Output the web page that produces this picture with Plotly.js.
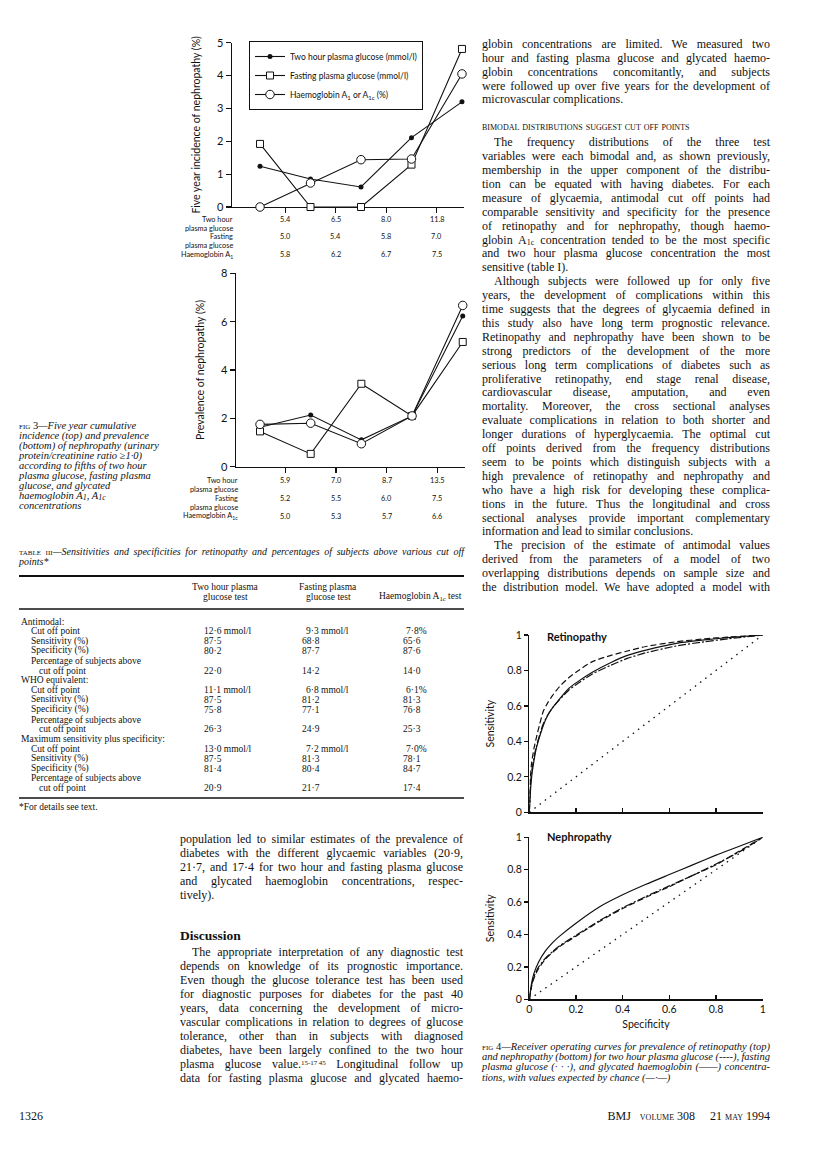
<!DOCTYPE html>
<html><head><meta charset="utf-8">
<script src="https://cdn.plot.ly/plotly-3.0.1.min.js"></script>
<style>
html,body{margin:0;padding:0;background:#fff;}
#page{position:relative;width:816px;height:1155px;overflow:hidden;background:#fff;}
#plot{position:absolute;left:0;top:0;width:816px;height:1155px;}
#prose{position:absolute;left:0;top:0;width:816px;height:1155px;pointer-events:none;}
.ln{position:absolute;white-space:nowrap;font-family:"Liberation Serif","Times New Roman",serif;color:#111;}
.sc{font-variant:small-caps;font-style:normal;}
.sb{font-size:8px;vertical-align:-1px;line-height:0;}
.sp{font-size:7px;vertical-align:3px;line-height:0;}
</style></head><body>
<div id="page"><div id="plot"></div><div id="prose"></div></div>
<script>
// ---------------- DATA ----------------
// Fig 3: fifths of each glycaemic variable
const fifths = [1, 2, 3, 4, 5];
const seriesNames = ['Two hour plasma glucose (mmol/l)', 'Fasting plasma glucose (mmol/l)', 'Haemoglobin A<sub>1</sub> or A<sub>1c</sub> (%)'];
// five year incidence of nephropathy (%)
const incTwoHour = [1.24, 0.85, 0.61, 2.11, 3.20];
const incFasting = [1.92, 0, 0, 1.29, 4.81];
const incHb      = [0, 0.73, 1.44, 1.46, 4.05];
// prevalence of nephropathy (%)
const prevTwoHour = [1.63, 2.14, 1.11, 2.10, 6.23];
const prevFasting = [1.46, 0.53, 3.43, 2.10, 5.16];
const prevHb      = [1.75, 1.80, 0.95, 2.10, 6.67];
// cut points between fifths (tick labels)
const incCutTwoHour = ['5.4', '6.5', '8.0', '11.8'];
const incCutFasting = ['5.0', '5.4', '5.8', '7.0'];
const incCutHb      = ['5.8', '6.2', '6.7', '7.5'];
const prevCutTwoHour = ['5.9', '7.0', '8.7', '13.5'];
const prevCutFasting = ['5.2', '5.5', '6.0', '7.5'];
const prevCutHb      = ['5.0', '5.3', '5.7', '6.6'];
const incTicks = [0, 1, 2, 3, 4, 5];
const prevTicks = [0, 2, 4, 6, 8];

// Fig 4: ROC curves
const rocTicks = [0, 0.2, 0.4, 0.6, 0.8, 1];
const rocTickText = ['0', '0.2', '0.4', '0.6', '0.8', '1'];
const retX       = [0, 0.005, 0.01, 0.02, 0.03, 0.045, 0.06, 0.08, 0.1, 0.13, 0.17, 0.2, 0.27, 0.35, 0.42, 0.5, 0.63, 0.75, 0.85, 1];
const retTwoHour = [0, 0.2, 0.28, 0.36, 0.42, 0.5, 0.57, 0.62, 0.66, 0.71, 0.76, 0.79, 0.85, 0.885, 0.91, 0.935, 0.962, 0.978, 0.988, 1];
const retFasting = [0, 0.15, 0.23, 0.31, 0.37, 0.44, 0.5, 0.55, 0.59, 0.635, 0.69, 0.72, 0.78, 0.83, 0.868, 0.9, 0.938, 0.962, 0.978, 1];
const retHb      = [0, 0.12, 0.2, 0.29, 0.36, 0.43, 0.49, 0.55, 0.59, 0.64, 0.7, 0.73, 0.79, 0.845, 0.885, 0.915, 0.953, 0.972, 0.985, 1];
const nephX       = [0, 0.01, 0.02, 0.04, 0.07, 0.1, 0.13, 0.2, 0.3, 0.4, 0.5, 0.6, 0.7, 0.8, 0.9, 1];
const nephHb      = [0, 0.1, 0.16, 0.23, 0.3, 0.35, 0.39, 0.47, 0.57, 0.645, 0.71, 0.77, 0.83, 0.89, 0.945, 1];
const nephTwoHour = [0, 0.08, 0.13, 0.19, 0.25, 0.29, 0.325, 0.39, 0.48, 0.56, 0.63, 0.695, 0.765, 0.83, 0.915, 1];
const nephFasting = [0, 0.09, 0.14, 0.2, 0.255, 0.295, 0.33, 0.395, 0.485, 0.565, 0.635, 0.7, 0.765, 0.835, 0.91, 1];
const chanceX = [0, 1];
const chanceY = [0, 1];

// Table III
const tableCols = [['Two hour plasma', 'glucose test'], ['Fasting plasma', 'glucose test'], ['Haemoglobin A<sub>1c</sub> test']];
const tableSections = ['Antimodal:', 'WHO equivalent:', 'Maximum sensitivity plus specificity:'];
const tableRowLabels = ['Cut off point', 'Sensitivity (%)', 'Specificity (%)', 'Percentage of subjects above', 'cut off point'];
const antimodalVals = [['12·6 mmol/l', '9·3 mmol/l', '7·8%'], ['87·5', '68·8', '65·6'], ['80·2', '87·7', '87·6'], ['22·0', '14·2', '14·0']];
const whoVals       = [['11·1 mmol/l', '6·8 mmol/l', '6·1%'], ['87·5', '81·2', '81·3'], ['75·8', '77·1', '76·8'], ['26·3', '24·9', '25·3']];
const maxVals       = [['13·0 mmol/l', '7·2 mmol/l', '7·0%'], ['87·5', '81·3', '78·1'], ['81·4', '80·4', '84·7'], ['20·9', '21·7', '17·4']];

// Prose
const rightTop = ['globin concentrations are limited. We measured two', 'hour and fasting plasma glucose and glycated haemo-', 'globin concentrations concomitantly, and subjects', 'were followed up over five years for the development of', 'microvascular complications.'];
const rightHeading = 'bimodal distributions suggest cut off points';
const rightP1 = ['The frequency distributions of the three test', 'variables were each bimodal and, as shown previously,', 'membership in the upper component of the distribu-', 'tion can be equated with having diabetes. For each', 'measure of glycaemia, antimodal cut off points had', 'comparable sensitivity and specificity for the presence', 'of retinopathy and for nephropathy, though haemo-', 'globin A<span class="sb">1c</span> concentration tended to be the most specific', 'and two hour plasma glucose concentration the most', 'sensitive (table I).'];
const rightP2 = ['Although subjects were followed up for only five', 'years, the development of complications within this', 'time suggests that the degrees of glycaemia defined in', 'this study also have long term prognostic relevance.', 'Retinopathy and nephropathy have been shown to be', 'strong predictors of the development of the more', 'serious long term complications of diabetes such as', 'proliferative retinopathy, end stage renal disease,', 'cardiovascular disease, amputation, and even', 'mortality. Moreover, the cross sectional analyses', 'evaluate complications in relation to both shorter and', 'longer durations of hyperglycaemia. The optimal cut', 'off points derived from the frequency distributions', 'seem to be points which distinguish subjects with a', 'high prevalence of retinopathy and nephropathy and', 'who have a high risk for developing these complica-', 'tions in the future. Thus the longitudinal and cross', 'sectional analyses provide important complementary', 'information and lead to similar conclusions.'];
const rightP3 = ['The precision of the estimate of antimodal values', 'derived from the parameters of a model of two', 'overlapping distributions depends on sample size and', 'the distribution model. We have adopted a model with'];
const leftP1 = ['population led to similar estimates of the prevalence of', 'diabetes with the different glycaemic variables (20·9,', '21·7, and 17·4 for two hour and fasting plasma glucose', 'and glycated haemoglobin concentrations, respec-', 'tively).'];
const leftHeading = 'Discussion';
const leftP2 = ['The appropriate interpretation of any diagnostic test', 'depends on knowledge of its prognostic importance.', 'Even though the glucose tolerance test has been used', 'for diagnostic purposes for diabetes for the past 40', 'years, data concerning the development of micro-', 'vascular complications in relation to degrees of glucose', 'tolerance, other than in subjects with diagnosed', 'diabetes, have been largely confined to the two hour', 'plasma glucose value.<span class="sp">15-17\u200945</span> Longitudinal follow up', 'data for fasting plasma glucose and glycated haemo-'];
const fig3Caption = ['<span class="sc">fig 3</span>—Five year cumulative', 'incidence (top) and prevalence', '(bottom) of nephropathy (urinary', 'protein/creatinine ratio ≥1·0)', 'according to fifths of two hour', 'plasma glucose, fasting plasma', 'glucose, and glycated', 'haemoglobin A<span class="sb">1</span>, A<span class="sb">1c</span>', 'concentrations'];
const tableCaption = ['<span class="sc">table iii</span>—Sensitivities and specificities for retinopathy and percentages of subjects above various cut off', 'points*'];
const tableFootnote = '*For details see text.';
const fig4Caption = ['<span class="sc">fig 4</span>—Receiver operating curves for prevalence of retinopathy (top)', 'and nephropathy (bottom) for two hour plasma glucose (----), fasting', 'plasma glucose (· · ·), and glycated haemoglobin (——) concentra-', 'tions, with values expected by chance (—·—)'];
const pageNumber = '1326';
const footerRight = 'BMJ&nbsp;&nbsp;&nbsp;<span class="sc">volume</span> 308&nbsp;&nbsp;&nbsp;&nbsp;&nbsp;21 <span class="sc">may</span> 1994';

// ---------------- GEOMETRY HELPERS ----------------
const W = 816, H = 1155;
const fx = p => p / W;
const fy = p => 1 - p / H;
const sans = 'Lato, "Open Sans", sans-serif';
const serif = '"Liberation Serif", "Times New Roman", serif';
const ink = '#111';
const cutPos = fifths.slice(1).map(v => v - 0.5);

const mTwo  = {symbol: 'circle', size: 5, color: ink};
const mFast = {symbol: 'square', size: 7, color: '#fff', line: {color: ink, width: 1}};
const mHb   = {symbol: 'circle', size: 8.5, color: '#fff', line: {color: ink, width: 1}};
const lineS = {color: ink, width: 1.1};

function f3trace(y, name, marker, xa, ya, show, grp) {
  return {x: fifths, y: y, name: name, type: 'scatter', mode: 'lines+markers', xaxis: xa, yaxis: ya,
    line: lineS, marker: marker, cliponaxis: false, showlegend: show, legendgroup: grp, hoverinfo: 'skip'};
}
function roc(x, y, dash, xa, ya) {
  return {x: x, y: y, type: 'scatter', mode: 'lines', xaxis: xa, yaxis: ya, showlegend: false,
    line: {color: ink, width: dash === 'dot' ? 1.3 : 1.2, dash: dash === 'dot' ? '1.5px,5px' : dash, shape: 'spline', smoothing: 0.6}, cliponaxis: false, hoverinfo: 'skip'};
}
const dashTwo = '6px,3px';
const dashFast = '8px,2px,2px,2px';

const traces = [
  f3trace(incTwoHour, seriesNames[0], mTwo, 'x', 'y', true, 'a'),
  f3trace(incFasting, seriesNames[1], mFast, 'x', 'y', true, 'b'),
  f3trace(incHb, seriesNames[2], mHb, 'x', 'y', true, 'c'),
  f3trace(prevTwoHour, seriesNames[0], mTwo, 'x2', 'y2', false, 'a'),
  f3trace(prevFasting, seriesNames[1], mFast, 'x2', 'y2', false, 'b'),
  f3trace(prevHb, seriesNames[2], mHb, 'x2', 'y2', false, 'c'),
  roc(chanceX, chanceY, 'dot', 'x3', 'y3'),
  roc(retX, retHb, 'solid', 'x3', 'y3'),
  roc(retX, retFasting, dashFast, 'x3', 'y3'),
  roc(retX, retTwoHour, dashTwo, 'x3', 'y3'),
  roc(chanceX, chanceY, 'dot', 'x4', 'y4'),
  roc(nephX, nephHb, 'solid', 'x4', 'y4'),
  roc(nephX, nephFasting, dashFast, 'x4', 'y4'),
  roc(nephX, nephTwoHour, dashTwo, 'x4', 'y4')
];

const axBase = {showgrid: false, zeroline: false, showline: true, linecolor: ink, linewidth: 1.3,
  tickcolor: ink, tickwidth: 1.2, fixedrange: true, layer: 'below traces'};

// ---------------- ANNOTATIONS ----------------
const ann = [];
const cutFont = {size: 7.3, family: sans, color: ink};
function cutRows(xref, axisPx, rows) {
  rows.forEach(r => {
    ann.push({xref: 'paper', yref: 'paper', x: fx(axisPx + 3.5), y: fy(r.y), xanchor: 'right', yanchor: 'middle',
      text: r.label, showarrow: false, font: cutFont});
    if (r.vals) r.vals.forEach((v, i) => ann.push({xref: xref, yref: 'paper', x: cutPos[i], y: fy(r.y),
      xanchor: 'center', yanchor: 'middle', text: v, showarrow: false, font: cutFont}));
  });
}
cutRows('x', 232, [
  {label: 'Two hour', y: 219.5},
  {label: 'plasma glucose', y: 228.5},
  {label: 'Fasting', y: 237},
  {label: 'plasma glucose', y: 245.5},
  {label: 'Haemoglobin A<sub>1</sub>', y: 255}
].map((r, i) => Object.assign(r, {vals: [incCutTwoHour, null, incCutFasting, null, incCutHb][i]})));
cutRows('x2', 236, [
  {label: 'Two hour', y: 481},
  {label: 'plasma glucose', y: 489.5},
  {label: 'Fasting', y: 498.5},
  {label: 'plasma glucose', y: 507},
  {label: 'Haemoglobin A<sub>1c</sub>', y: 516.5}
].map((r, i) => Object.assign(r, {vals: [prevCutTwoHour, null, prevCutFasting, null, prevCutHb][i]})));
// Fig 4 panel labels
ann.push({xref: 'paper', yref: 'paper', x: fx(545), y: fy(636), xanchor: 'left', yanchor: 'middle', text: '<b>Retinopathy</b>', showarrow: false, font: {size: 11, family: sans, color: ink}});
ann.push({xref: 'paper', yref: 'paper', x: fx(545), y: fy(836), xanchor: 'left', yanchor: 'middle', text: '<b>Nephropathy</b>', showarrow: false, font: {size: 11, family: sans, color: ink}});

// Table III
const tFont = {size: 9.5, family: serif, color: ink};
function tText(x, y, t, anchor) {
  ann.push({xref: 'paper', yref: 'paper', x: fx(x), y: fy(y), xanchor: anchor || 'left', yanchor: 'middle', text: t, showarrow: false, font: tFont});
}
const colCenters = [225, 328];
tableCols.forEach((lines, c) => {
  if (c < 2) lines.forEach((t, k) => tText(colCenters[c], 587.3 + k * 9.6, t, 'center'));
  else tText(464, 597, lines[0], 'right');
});
const valX = [201.7, 300, 401];
const cutX = [201.7, 304, 404];
const sectionVals = [antimodalVals, whoVals, maxVals];
const rowY = i => 621.5 + i * 9.8;
sectionVals.forEach((vals, s) => {
  const base = s * 6;
  tText(19, rowY(base), tableSections[s]);
  tText(28.8, rowY(base + 1), tableRowLabels[0]);
  tText(28.8, rowY(base + 2), tableRowLabels[1]);
  tText(28.8, rowY(base + 3), tableRowLabels[2]);
  tText(28.8, rowY(base + 4), tableRowLabels[3]);
  tText(36.8, rowY(base + 5), tableRowLabels[4]);
  vals.forEach((row, r) => {
    const yy = rowY(base + 1 + r + (r === 3 ? 1 : 0));
    row.forEach((v, c) => tText(r === 0 ? cutX[c] : valX[c], yy, v));
  });
});
const shapes = [
  {type: 'line', xref: 'paper', yref: 'paper', x0: fx(19), x1: fx(464), y0: fy(576), y1: fy(576), line: {color: ink, width: 2}},
  {type: 'line', xref: 'paper', yref: 'paper', x0: fx(19), x1: fx(464), y0: fy(609), y1: fy(609), line: {color: ink, width: 1.6}},
  {type: 'line', xref: 'paper', yref: 'paper', x0: fx(19), x1: fx(464), y0: fy(798), y1: fy(798), line: {color: ink, width: 1.6}}
];

const layout = {
  width: W, height: H, margin: {l: 0, r: 0, t: 0, b: 0}, paper_bgcolor: '#fff', plot_bgcolor: 'rgba(0,0,0,0)',
  font: {family: sans, color: ink, size: 10},
  showlegend: true,
  legend: {x: fx(249), y: fy(41), xanchor: 'left', yanchor: 'top', bordercolor: ink, borderwidth: 1, bgcolor: '#fff',
    font: {size: 8.5, family: sans, color: ink}, itemwidth: 30, tracegroupgap: 0},
  xaxis: Object.assign({}, axBase, {domain: [fx(232), fx(464)], range: [0.445, 5.04], anchor: 'y', ticks: 'outside', ticklen: 5,
    tickvals: cutPos, showticklabels: false}),
  yaxis: Object.assign({}, axBase, {domain: [fy(207), fy(42.7)], range: [0, 5], anchor: 'x', ticks: 'outside', ticklen: 5,
    tickvals: incTicks, tickfont: {size: 11, family: sans, color: ink},
    title: {text: 'Five year incidence of nephropathy (%)', font: {size: 10.5, family: sans, color: ink}, standoff: 14}}),
  xaxis2: Object.assign({}, axBase, {domain: [fx(236), fx(465)], range: [0.526, 5.045], anchor: 'y2', ticks: 'outside', ticklen: 5,
    tickvals: cutPos, showticklabels: false}),
  yaxis2: Object.assign({}, axBase, {domain: [fy(466.7), fy(273.3)], range: [0, 8], anchor: 'x2', ticks: 'outside', ticklen: 5,
    tickvals: prevTicks, tickfont: {size: 11, family: sans, color: ink},
    title: {text: 'Prevalence of nephropathy (%)', font: {size: 10.5, family: sans, color: ink}, standoff: 14}}),
  xaxis3: Object.assign({}, axBase, {domain: [fx(529.3), fx(762.7)], range: [0, 1], anchor: 'y3', ticks: 'inside', ticklen: 4,
    tickvals: rocTicks, showticklabels: false}),
  yaxis3: Object.assign({}, axBase, {domain: [fy(812.3), fy(635)], range: [0, 1], anchor: 'x3', ticks: 'outside', ticklen: 4,
    tickvals: rocTicks, ticktext: rocTickText, tickfont: {size: 10.5, family: sans, color: ink},
    title: {text: 'Sensitivity', font: {size: 10.5, family: sans, color: ink}, standoff: 10}}),
  xaxis4: Object.assign({}, axBase, {domain: [fx(529.3), fx(762.7)], range: [0, 1], anchor: 'y4', ticks: 'inside', ticklen: 4,
    tickvals: rocTicks, ticktext: rocTickText, tickfont: {size: 10.5, family: sans, color: ink},
    title: {text: 'Specificity', font: {size: 10.5, family: sans, color: ink}, standoff: 6}}),
  yaxis4: Object.assign({}, axBase, {domain: [fy(999.3), fy(837.3)], range: [0, 1], anchor: 'x4', ticks: 'outside', ticklen: 4,
    tickvals: rocTicks, ticktext: rocTickText, tickfont: {size: 10.5, family: sans, color: ink},
    title: {text: 'Sensitivity', font: {size: 10.5, family: sans, color: ink}, standoff: 10}}),
  annotations: ann,
  shapes: shapes
};

Plotly.newPlot('plot', traces, layout, {staticPlot: true, displayModeBar: false});

// ---------------- PROSE (HTML text) ----------------
const prose = document.getElementById('prose');
function addLine(html, o) {
  const d = document.createElement('div');
  d.className = 'ln';
  d.style.fontSize = o.size + 'px';
  d.style.lineHeight = o.lh + 'px';
  d.style.top = (o.y - o.lh / 2) + 'px';
  d.style.left = o.x + 'px';
  if (o.italic) d.style.fontStyle = 'italic';
  if (o.bold) d.style.fontWeight = 'bold';
  if (o.sc) d.style.fontVariant = 'small-caps';
  d.innerHTML = html;
  prose.appendChild(d);
  const nat = d.getBoundingClientRect().width;
  if (o.justify) {
    const n = (d.textContent.match(/ /g) || []).length;
    if (n > 0) d.style.wordSpacing = ((o.w - nat) / n) + 'px';
  }
  if (o.right) d.style.left = (o.x - nat) + 'px';
}
function addPara(lines, o) {
  lines.forEach((t, i) => {
    const ind = (i === 0 && o.indent) ? o.indent : 0;
    addLine(t, Object.assign({}, o, {x: o.x + ind, w: o.w - ind, y: o.y0 + i * o.dy,
      justify: o.justifyAll || i < lines.length - 1}));
  });
}
const body = {size: 12, lh: 13, dy: 13.9};
// right column
addPara(rightTop, Object.assign({}, body, {x: 482, w: 288, y0: 44.3}));
addLine(rightHeading, {x: 482, y: 126, size: 12, lh: 13, sc: true});
addPara(rightP1, Object.assign({}, body, {x: 482, w: 288, y0: 142.7, indent: 12}));
addPara(rightP2, Object.assign({}, body, {x: 482, w: 288, y0: 142.7 + 10 * 13.9, indent: 12}));
addPara(rightP3, Object.assign({}, body, {x: 482, w: 288, y0: 142.7 + 29 * 13.9, indent: 12, justifyAll: true}));
// left column
addPara(leftP1, Object.assign({}, body, {x: 180, w: 283, y0: 839.5}));
addLine(leftHeading, {x: 180, y: 935, size: 13.5, lh: 15, bold: true});
addPara(leftP2, Object.assign({}, body, {x: 180, w: 283, y0: 952.9, indent: 12, justifyAll: true}));
// captions
fig3Caption.forEach((t, i) => addLine(t, {x: 19, y: 426 + i * 10, size: 10.5, lh: 10, italic: true}));
addPara(tableCaption, {x: 19, w: 445, y0: 551.5, dy: 10, size: 10, lh: 10, italic: true});
addLine(tableFootnote, {x: 19, y: 807, size: 9.5, lh: 10});
addPara(fig4Caption, {x: 482, w: 288, y0: 1046.7, dy: 10.3, size: 10.5, lh: 10, italic: true});
// footer
addLine(pageNumber, {x: 19, y: 1116.7, size: 12, lh: 13});
addLine(footerRight, {x: 770, y: 1116.7, size: 12, lh: 13, right: true});
</script></body></html>
